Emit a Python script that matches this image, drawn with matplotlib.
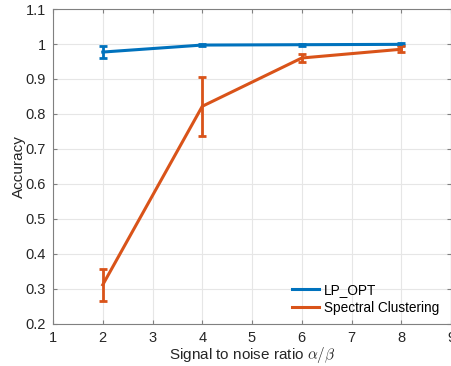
import matplotlib
matplotlib.use("Agg")
import matplotlib.pyplot as plt

snr = [2, 4, 6, 8]
lp_opt = [0.977, 0.997, 0.998, 0.999]
lp_opt_err = [0.018, 0.003, 0.003, 0.003]
spectral = [0.312, 0.822, 0.960, 0.985]
spectral_err = [0.046, 0.085, 0.012, 0.008]
xticks = [1, 2, 3, 4, 5, 6, 7, 8, 9]
yticks = [0.2, 0.3, 0.4, 0.5, 0.6, 0.7, 0.8, 0.9, 1.0, 1.1]
ytick_labels = ["0.2", "0.3", "0.4", "0.5", "0.6", "0.7", "0.8", "0.9", "1", "1.1"]

plt.rcParams['font.family'] = ['Liberation Sans', 'DejaVu Sans']
plt.rcParams['mathtext.fontset'] = 'cm'

fig = plt.figure(figsize=(4.52, 3.66), dpi=100)
ax = fig.add_axes([0.1173, 0.1148, 0.8805, 0.8606])

blue = '#0072BD'
orange = '#D95319'
c1 = ax.errorbar(snr, lp_opt, yerr=lp_opt_err, color=blue, lw=2.2, capsize=3,
                 capthick=2, elinewidth=2, zorder=3)
c2 = ax.errorbar(snr, spectral, yerr=spectral_err, color=orange, lw=2.2, capsize=3,
                 capthick=2, elinewidth=2, zorder=3)

ax.set_xlim(1, 9)
ax.set_ylim(0.2, 1.1)
ax.set_xticks(xticks)
ax.set_yticks(yticks)
ax.set_yticklabels(ytick_labels)
ax.grid(True, color='#e6e6e6', lw=0.8)
ax.set_axisbelow(True)
for s in ax.spines.values():
    s.set_color('#808080')
    s.set_linewidth(0.8)
ax.tick_params(direction='in', top=True, right=True, length=3, width=0.8,
               colors='#808080', labelcolor='#262626', labelsize=10.5, pad=5)

ax.set_xlabel(r'Signal to noise ratio $\alpha/\beta$', fontsize=11, color='#262626', labelpad=0)
ax.set_ylabel('Accuracy', fontsize=11, color='#262626', labelpad=0)

leg = ax.legend([c1[0], c2[0]], ['LP_OPT', 'Spectral Clustering'], loc='lower right',
                frameon=False, fontsize=9.8, handlelength=2.0,
                handletextpad=0.35, labelspacing=0.3, bbox_to_anchor=(1.0, -0.01))

fig.savefig('out.png', dpi=100)
